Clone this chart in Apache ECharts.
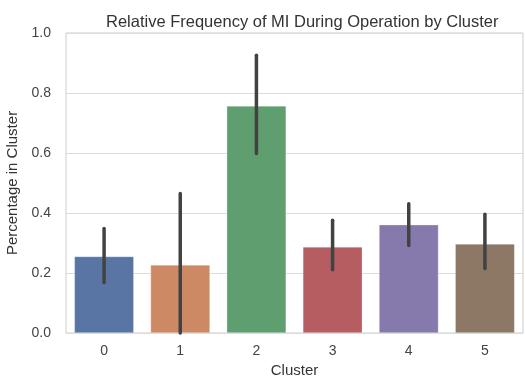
<!DOCTYPE html>
<html>
<head>
<meta charset="utf-8">
<script src="https://cdn.jsdelivr.net/npm/echarts@6/dist/echarts.min.js"></script>
<style>html,body{margin:0;padding:0;background:#fff}#c{width:525px;height:377px}</style>
</head>
<body>
<div id="c"></div>
<script>
const categories = ['0', '1', '2', '3', '4', '5'];
const values = [0.255, 0.227, 0.757, 0.287, 0.361, 0.297];
const errLow = [0.168, 0.0, 0.598, 0.211, 0.292, 0.215];
const errHigh = [0.348, 0.465, 0.926, 0.376, 0.431, 0.396];
const colors = ['#5975a4', '#cc8963', '#5f9e6e', '#b55d60', '#857aab', '#8d7866'];
const yTicks = [0, 0.2, 0.4, 0.6, 0.8, 1.0];

const FONT = "'Liberation Sans', Arial, sans-serif";
const chart = echarts.init(document.getElementById('c'), null, {renderer: 'canvas'});
chart.setOption({
  animation: false,
  title: {
    text: 'Relative Frequency of MI During Operation by Cluster',
    left: 101, top: 9,
    textStyle: {fontFamily: FONT, fontSize: 16.5, fontWeight: 'normal', color: '#333333'}
  },
  grid: {left: 66, right: 2, top: 33, bottom: 44, show: true, borderColor: '#cccccc', borderWidth: 1,
    containLabel: false, outerBoundsMode: 'none'},
  xAxis: {
    type: 'category', data: categories,
    name: 'Cluster', nameLocation: 'middle', nameGap: 29,
    nameTextStyle: {fontFamily: FONT, fontSize: 15, color: '#333333'},
    axisLine: {show: false}, axisTick: {show: false},
    axisLabel: {fontFamily: FONT, fontSize: 14, color: '#444444', margin: 11}
  },
  yAxis: {
    type: 'value', min: yTicks[0], max: yTicks[yTicks.length - 1], interval: 0.2,
    name: 'Percentage in Cluster', nameLocation: 'middle', nameGap: 43,
    nameTextStyle: {fontFamily: FONT, fontSize: 15, color: '#333333'},
    axisLine: {show: false}, axisTick: {show: false},
    axisLabel: {fontFamily: FONT, fontSize: 14, color: '#444444', margin: 15,
      formatter: v => v.toFixed(1)},
    splitLine: {lineStyle: {color: '#dcdcdc', width: 1}}
  },
  series: [
    {
      type: 'bar', barWidth: '78%',
      data: values.map((v, i) => ({value: v, itemStyle: {color: colors[i]}})),
      itemStyle: {borderColor: 'rgba(255,255,255,0.6)', borderWidth: 0.5}
    },
    {
      type: 'custom',
      data: categories.map((c, i) => [i, errLow[i], errHigh[i]]),
      renderItem: (params, api) => {
        const lo = api.coord([api.value(0), api.value(1)]);
        const hi = api.coord([api.value(0), api.value(2)]);
        return {
          type: 'line',
          shape: {x1: lo[0], y1: lo[1], x2: hi[0], y2: hi[1]},
          style: {stroke: '#424242', lineWidth: 3.5, lineCap: 'round'}
        };
      },
      z: 10
    }
  ]
});
</script>
</body>
</html>
